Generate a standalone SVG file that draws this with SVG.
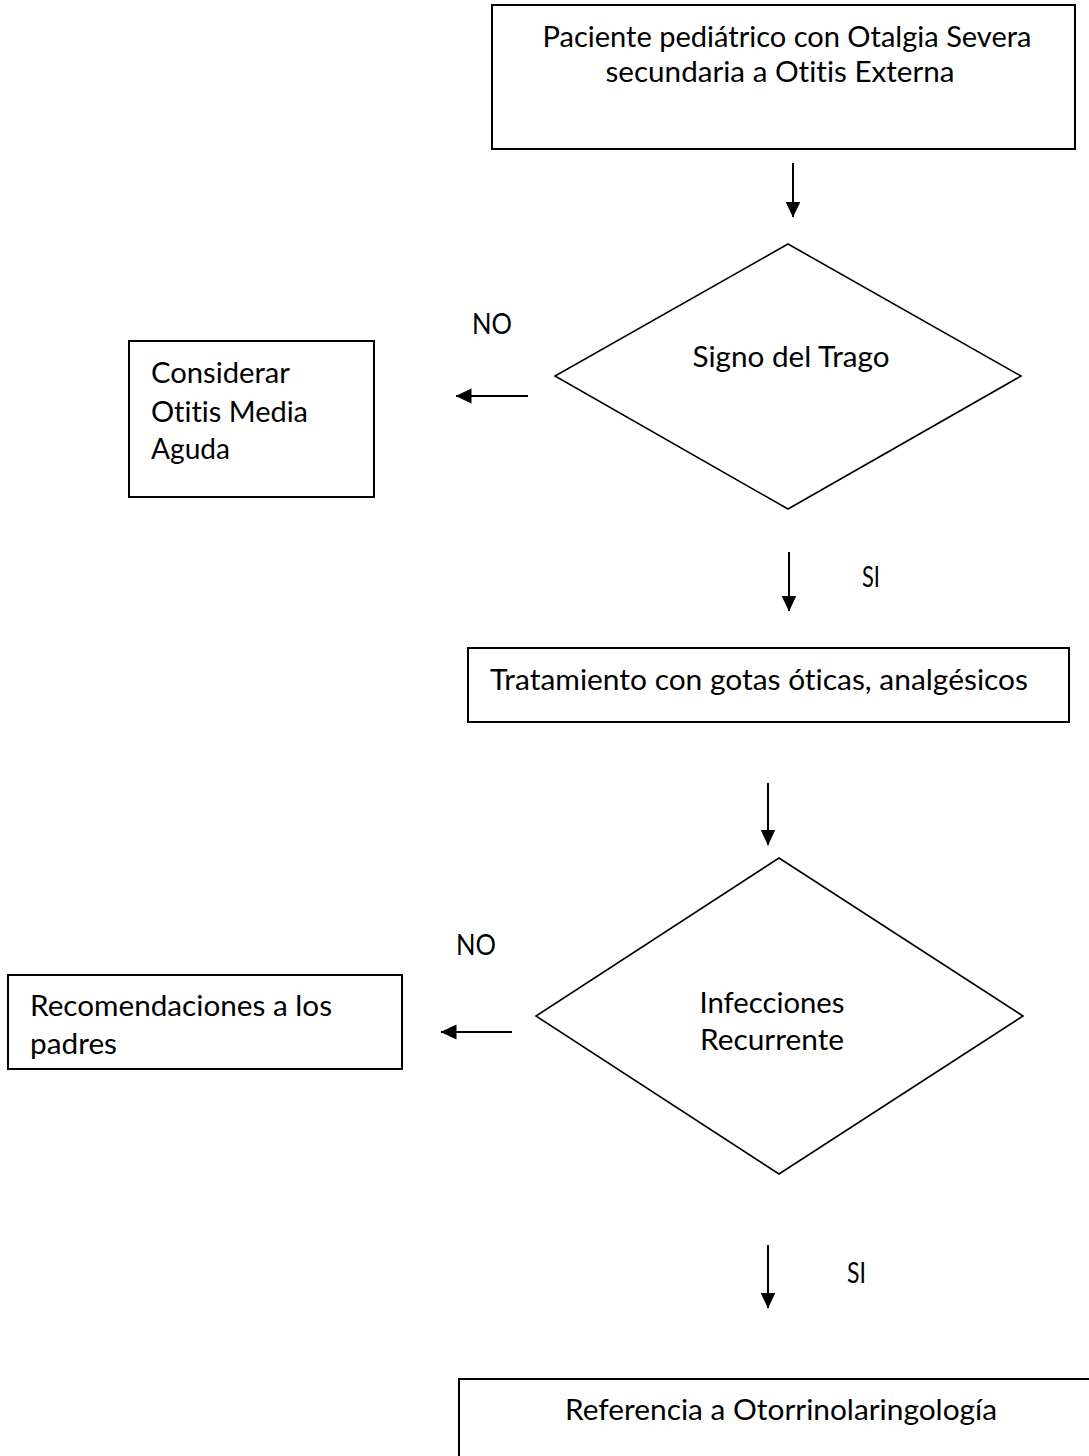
<svg xmlns="http://www.w3.org/2000/svg" width="1089" height="1456" viewBox="0 0 1089 1456">
<defs>
<style>
.box{fill:#fff;stroke:#000;stroke-width:2}
.dia{fill:#fff;stroke:#000;stroke-width:1.6}
.t{font-family:Lato,"Carlito","Liberation Sans",sans-serif;font-size:28px;fill:#000;font-variant-ligatures:none;font-feature-settings:"liga" 0,"clig" 0}
.c{text-anchor:middle}
.ln{stroke:#000;stroke-width:2;fill:none}
</style>
<marker id="ah" markerUnits="userSpaceOnUse" markerWidth="16" markerHeight="16" viewBox="0 0 16 16" refX="15.5" refY="8" orient="auto">
<path d="M0,0.5 L16,8 L0,15.5 Z" fill="#000"/>
</marker>
</defs>
<rect width="1089" height="1456" fill="#fff"/>
<g id="n1">
<rect class="box" x="492" y="5" width="583" height="144"/>
<text class="t c" x="787" y="47" textLength="489" lengthAdjust="spacingAndGlyphs">Paciente pediátrico con Otalgia Severa</text>
<text class="t c" x="780" y="82" textLength="349" lengthAdjust="spacingAndGlyphs">secundaria a Otitis Externa</text>
</g>
<g id="n2">
<polygon class="dia" points="788,244 1021,376 788,509 555,376"/>
<text class="t c" x="791" y="367" textLength="197" lengthAdjust="spacingAndGlyphs">Signo del Trago</text>
</g>
<g id="n3">
<rect class="box" x="129" y="341" width="245" height="156"/>
<text class="t" x="151" y="383" textLength="139" lengthAdjust="spacingAndGlyphs">Considerar</text>
<text class="t" x="151" y="422" textLength="157" lengthAdjust="spacingAndGlyphs">Otitis Media</text>
<text class="t" x="151" y="459" textLength="79" lengthAdjust="spacingAndGlyphs">Aguda</text>
</g>
<g id="n4">
<rect class="box" x="468" y="648" width="601" height="74"/>
<text class="t" x="490" y="690" textLength="538" lengthAdjust="spacingAndGlyphs">Tratamiento con gotas óticas, analgésicos</text>
</g>
<g id="n5">
<polygon class="dia" points="779,858 1023,1016 779,1174 536,1016"/>
<text class="t c" x="772" y="1013" textLength="145" lengthAdjust="spacingAndGlyphs">Infecciones</text>
<text class="t c" x="772" y="1050" textLength="144" lengthAdjust="spacingAndGlyphs">Recurrente</text>
</g>
<g id="n6">
<rect class="box" x="8" y="975" width="394" height="94"/>
<text class="t" x="30" y="1016" textLength="302" lengthAdjust="spacingAndGlyphs">Recomendaciones a los</text>
<text class="t" x="30" y="1054" textLength="87" lengthAdjust="spacingAndGlyphs">padres</text>
</g>
<g id="n7">
<rect class="box" x="459" y="1379" width="640" height="90"/>
<text class="t" x="565" y="1420" textLength="432" lengthAdjust="spacingAndGlyphs">Referencia a Otorrinolaringología</text>
</g>
<g id="connectors">
<line class="ln" x1="793" y1="163" x2="793" y2="217" marker-end="url(#ah)"/>
<line class="ln" x1="528" y1="396" x2="456" y2="396" marker-end="url(#ah)"/>
<line class="ln" x1="789" y1="552" x2="789" y2="611" marker-end="url(#ah)"/>
<line class="ln" x1="768" y1="783" x2="768" y2="845" marker-end="url(#ah)"/>
<line class="ln" x1="512" y1="1032" x2="441" y2="1032" marker-end="url(#ah)"/>
<line class="ln" x1="768" y1="1245" x2="768" y2="1308" marker-end="url(#ah)"/>
</g>
<g id="labels">
<text class="t" x="472" y="334" textLength="40" lengthAdjust="spacingAndGlyphs">NO</text>
<text class="t" x="862" y="587" textLength="18" lengthAdjust="spacingAndGlyphs">SI</text>
<text class="t" x="456" y="955" textLength="40" lengthAdjust="spacingAndGlyphs">NO</text>
<text class="t" x="847" y="1283" textLength="19" lengthAdjust="spacingAndGlyphs">SI</text>
</g>
</svg>
